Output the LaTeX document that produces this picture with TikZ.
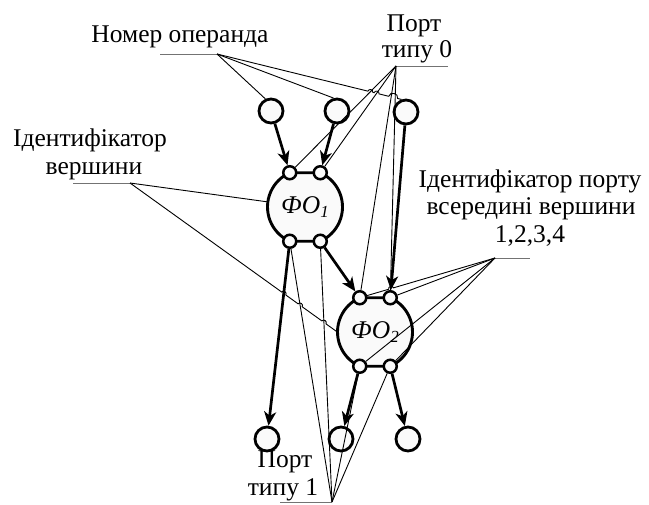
\documentclass[tikz,border=0pt]{standalone}
\usepackage{fontspec}
\setmainfont{Liberation Serif}
\usetikzlibrary{arrows.meta,calc,intersections}
\begin{document}
\begin{tikzpicture}[x=1bp,y=-1bp,
  every node/.style={font=\fontsize{25.6}{28}\selectfont},
  opnd/.style={circle,draw,line width=2.8bp,fill=gray!4,minimum size=24bp,inner sep=0pt},
  port/.style={circle,draw,line width=2.5bp,fill=gray!4,minimum size=13bp,inner sep=0pt},
  fobody/.style={draw,line width=2.9bp,fill=gray!4},
  fotext/.style={circle,minimum size=75bp,inner sep=0pt},
  arr/.style={line width=2.7bp,-{Stealth[length=14bp,width=12bp,inset=4bp]}},
  lead/.style={line width=0.9bp},
  uline/.style={line width=0.9bp,draw=black!55},
  lbl/.style={anchor=base,inner sep=0pt},
  hopl/.style={bend left=90,looseness=1.5},
  hopr/.style={bend right=90,looseness=1.5},
]
\useasboundingbox (0,0) rectangle (649,505);

% functional operator bodies: circles with flattened top and bottom
\coordinate (c1) at (305,207);
\coordinate (c2) at (375,332);
\foreach \c in {c1,c2}
  \draw[fobody] ($(\c)+(66:37.5bp)$) arc[start angle=66,end angle=-66,radius=37.5bp]
    -- ($(\c)+(-114:37.5bp)$) arc[start angle=-114,end angle=-246,radius=37.5bp] -- cycle;
\node[fotext] (f1) at (c1) {\itshape ФО\raisebox{-0.35ex}{\fontsize{17}{17}\selectfont 1}};
\node[fotext] (f2) at (c2) {\itshape ФО\raisebox{-0.35ex}{\fontsize{17}{17}\selectfont 2}};

% ports of the operators
\foreach \c in {1,2}{
  \node[port] (f\c tl) at ($(c\c)+(114:37.5bp)$) {};
  \node[port] (f\c tr) at ($(c\c)+(66:37.5bp)$) {};
  \node[port] (f\c bl) at ($(c\c)+(-114:37.5bp)$) {};
  \node[port] (f\c br) at ($(c\c)+(-66:37.5bp)$) {};
}

% operand circles
\node[opnd] (o1) at (271,111) {};
\node[opnd] (o2) at (337,111) {};
\node[opnd] (o3) at (406,112) {};
\node[opnd] (u1) at (267,439) {};
\node[opnd] (u2) at (341,439) {};
\node[opnd] (u3) at (408,439) {};

% data flow
\draw[arr] (o1) -- (f1tl);
\draw[arr] (o2) -- (f1tr);
\draw[arr] (o3) -- (f2tr);
\draw[arr] (f1br) -- (f2tl);
\draw[arr] (f1bl) -- (u1);
\draw[arr] (f2bl) -- (u2);
\draw[arr] (f2br) -- (u3);

% labels
\node[lbl] (lnum) at (180,43) {Номер операнда};
\node[lbl] (lp0a) at (414,32) {Порт};
\node[lbl] (lp0b) at (417,58) {типу 0};
\node[lbl] (lva) at (90,147) {Ідентифікатор};
\node[lbl] (lvb) at (94,175) {вершини};
\node[lbl] (lpa) at (530,188) {Ідентифікатор порту};
\node[lbl] (lpb) at (531,215) {всередині вершини};
\node[lbl] (lpc) at (530,243) {1,2,3,4};
\node[lbl] (lp1a) at (285,467) {Порт};
\node[lbl] (lp1b) at (283,495) {типу 1};

% label underlines and fan points
\coordinate (nfan) at (217,54);  \coordinate (nend) at (160,54);
\coordinate (t0fan) at (396,66); \coordinate (t0end) at (448,66);
\coordinate (vfan) at (130,183); \coordinate (vend) at (73,183);
\coordinate (pfan) at (495,258); \coordinate (pend) at (530,258);
\coordinate (t1fan) at (332,502); \coordinate (t1end) at (280,502);
\draw[uline] (nend) -- (nfan);
\draw[uline] (t0fan) -- (t0end);
\draw[uline] (vend) -- (vfan);
\draw[uline] (pfan) -- (pend);
\draw[uline] (t1end) -- (t1fan);

% helper paths for line hops
\path[name path=t0ax] (t0fan) -- (f1tl.center);
\path[name path=t0bx] (t0fan) -- (f1tr.center);
\path[name path=t0cx] (t0fan) -- (f2tl.center);
\path[name path=t0dx] (t0fan) -- (f2tr.center);
\path[name path=t1ax] (t1fan) -- (f1bl.center);
\path[name path=t1bx] (t1fan) -- (f1br.center);
\path[name path=a5x] (f1bl.center) -- (u1.center);
\path[name path=a3x] (o3.center) -- (f2tr.center);

% leader lines: port type 0
\draw[lead] (t0fan) -- (f1tl);
\draw[lead] (t0fan) -- (f1tr);
\draw[lead] (t0fan) -- (f2tl);
\draw[lead] (t0fan) -- (f2tr);
% leader lines: port type 1
\draw[lead] (t1fan) -- (f1bl);
\draw[lead] (t1fan) -- (f1br);
\draw[lead] (t1fan) -- (f2bl);
\draw[lead] (t1fan) -- (f2br);
% leader lines: port identifier
\draw[lead] (pfan) -- (f2tr);
\draw[lead] (pfan) -- (f2bl);
\draw[lead] (pfan) -- (f2br);
\path[name path=p1] (pfan) -- (f2tl);
\path[name intersections={of=p1 and a3x,by=xp}];
\draw[lead] (pfan) -- ($(xp)!2.5bp!(pfan)$) to[hopr] ($(xp)!2.5bp!(f2tl)$) -- (f2tl);
% leader lines: operator identifier
\draw[lead] (vfan) -- (f1);
\path[name path=v2] (vfan) -- (f2.west);
\path[name intersections={of=v2 and a5x,by=xv1}];
\path[name intersections={of=v2 and t1ax,by=xv2}];
\path[name intersections={of=v2 and t1bx,by=xv3}];
\draw[lead] (vfan) -- ($(xv1)!2.5bp!(vfan)$) to[hopl] ($(xv1)!2.5bp!(f2.west)$)
  -- ($(xv2)!2.5bp!(vfan)$) to[hopl] ($(xv2)!2.5bp!(f2.west)$)
  -- ($(xv3)!2.5bp!(vfan)$) to[hopl] ($(xv3)!2.5bp!(f2.west)$) -- (f2.west);
% leader lines: operand number
\draw[lead] (nfan) -- (o1.115);
\draw[lead] (nfan) -- (o2.105);
\path[name path=n3] (nfan) -- (o3.110);
\path[name intersections={of=n3 and t0ax,by=xn1}];
\path[name intersections={of=n3 and t0bx,by=xn2}];
\path[name intersections={of=n3 and t0cx,by=xn3}];
\path[name intersections={of=n3 and t0dx,by=xn4}];
\draw[lead] (nfan) -- ($(xn1)!2.5bp!(nfan)$) to[hopl] ($(xn1)!2.5bp!(o3.110)$)
  -- ($(xn2)!2.5bp!(nfan)$) to[hopl] ($(xn2)!2.5bp!(o3.110)$)
  -- ($(xn3)!2.5bp!(nfan)$) to[hopl] ($(xn4)!2.5bp!(o3.110)$) -- (o3.110);
\end{tikzpicture}
\end{document}
